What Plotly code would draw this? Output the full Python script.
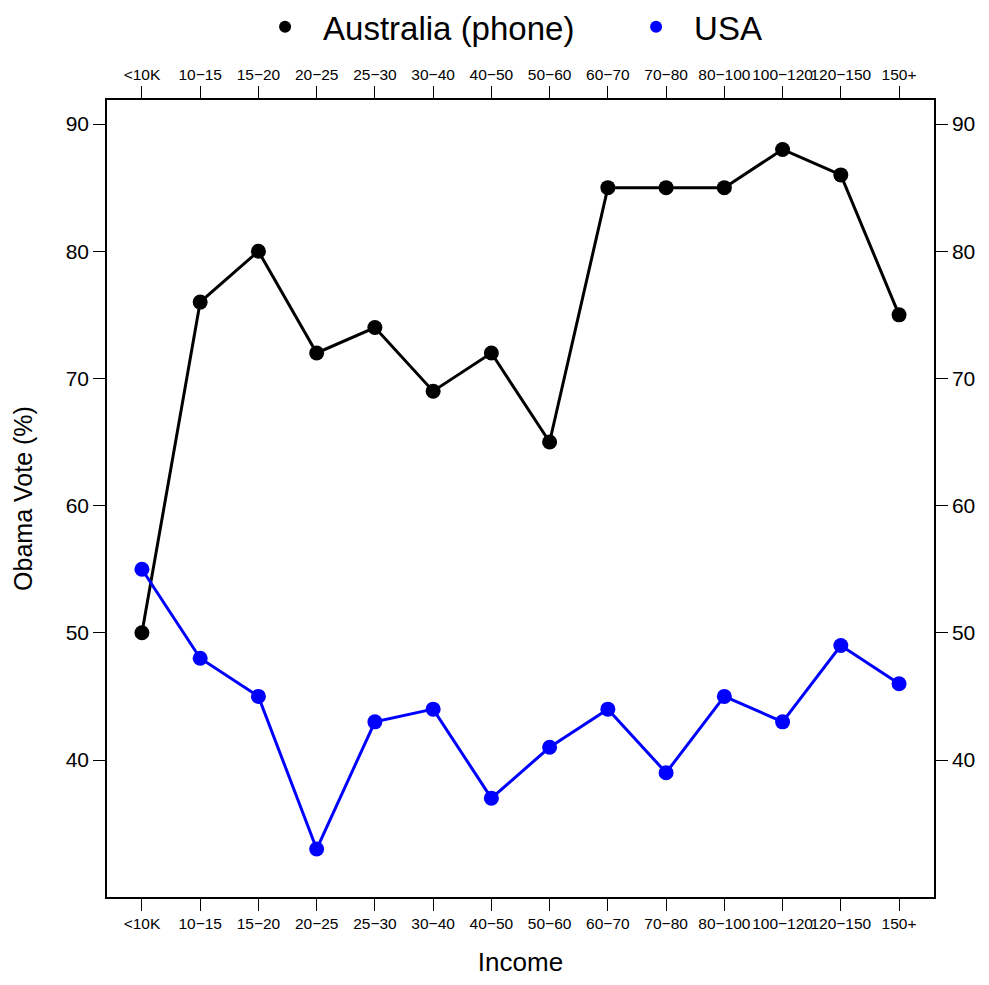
import plotly.graph_objects as go

income = ["<10K", "10\u221215", "15\u221220", "20\u221225", "25\u221230", "30\u221240", "40\u221250",
          "50\u221260", "60\u221270", "70\u221280", "80\u2212100", "100\u2212120", "120\u2212150", "150+"]
australia = [50, 76, 80, 72, 74, 69, 72, 65, 85, 85, 85, 88, 86, 75]
usa = [55, 48, 45, 33, 43, 44, 37, 41, 44, 39, 45, 43, 49, 46]
yticks = [40, 50, 60, 70, 80, 90]

xpos = list(range(len(income)))
xr = [-0.6, 13.6]
yr = [29.23, 91.89]
font = "Liberation Sans, Arial, Helvetica, sans-serif"

fig = go.Figure()
fig.add_trace(go.Scatter(x=xpos, y=australia, mode="lines+markers", name="Australia (phone)", showlegend=False,
                         line=dict(color="black", width=3), marker=dict(color="black", size=15)))
fig.add_trace(go.Scatter(x=xpos, y=usa, mode="lines+markers", name="USA", showlegend=False,
                         line=dict(color="#0000ff", width=3), marker=dict(color="#0000ff", size=15)))
# legend entries (markers only)
fig.add_trace(go.Scatter(x=[None], y=[None], mode="markers", name="Australia (phone)", legend="legend",
                         marker=dict(color="black", size=17)))
fig.add_trace(go.Scatter(x=[None], y=[None], mode="markers", name="USA", legend="legend2",
                         marker=dict(color="#0000ff", size=17)))

axis_common = dict(showgrid=False, zeroline=False, showline=True, linecolor="black", linewidth=1.5,
                   ticks="outside", ticklen=12, tickwidth=1.2, tickcolor="black", automargin=False)

leg_common = dict(orientation="h", xref="container", xanchor="left", y=0.9805, yref="container",
                  yanchor="middle", font=dict(size=33), itemsizing="constant", itemwidth=66,
                  bgcolor="rgba(0,0,0,0)")

fig.update_layout(
    width=973, height=969,
    margin=dict(l=99, r=47, t=92, b=80),
    paper_bgcolor="white", plot_bgcolor="white",
    font=dict(family=font, color="black"),
    showlegend=True,
    legend=dict(x=0.2457, **leg_common),
    legend2=dict(x=0.627, **leg_common),
    xaxis=dict(range=xr, tickvals=xpos, ticktext=income, tickfont=dict(size=15.5), tickangle=0,
               title=dict(text="Income", font=dict(size=26), standoff=40), mirror=True, **axis_common),
    xaxis2=dict(range=xr, tickvals=xpos, ticktext=income, tickfont=dict(size=15.5), tickangle=0,
                overlaying="x", side="top", anchor="y", **axis_common),
    yaxis=dict(range=yr, tickvals=yticks, tickfont=dict(size=21),
               title=dict(text="Obama Vote (%)", font=dict(size=25), standoff=26), mirror=True, **axis_common),
    yaxis2=dict(range=yr, tickvals=yticks, tickfont=dict(size=21), overlaying="y",
                side="right", anchor="x", **axis_common),
)
fig.add_trace(go.Scatter(x=[None], y=[None], xaxis="x2", yaxis="y2", showlegend=False, hoverinfo="skip"))

fig.write_html("out.html")
